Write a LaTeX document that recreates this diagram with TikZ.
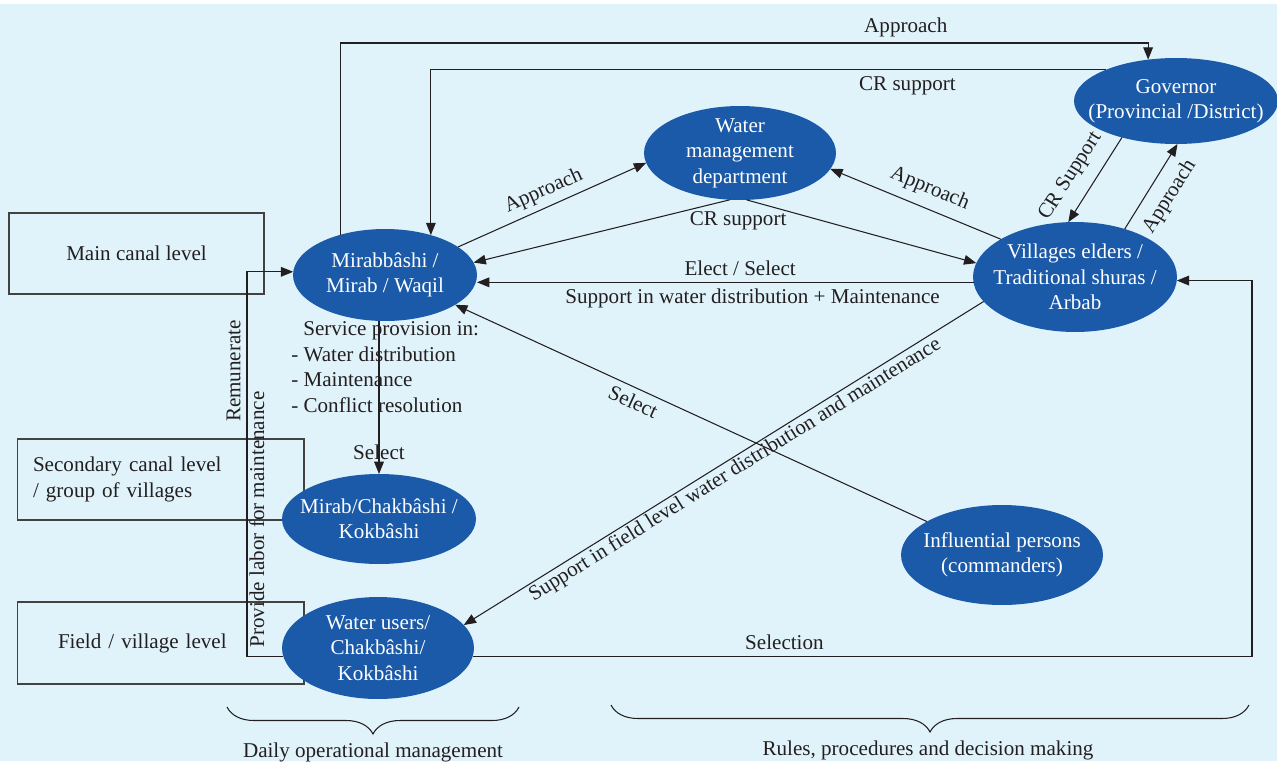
\documentclass[tikz,border=0pt]{standalone}
\usepackage{fontspec}
\setmainfont{Liberation Serif}
\usetikzlibrary{positioning,shapes.geometric,arrows.meta,decorations.pathreplacing}
\definecolor{bgblue}{HTML}{E0F3FB}
\definecolor{elblue}{HTML}{1A5AA8}
\definecolor{ink}{HTML}{231F20}

\begin{document}
\begin{tikzpicture}[x=0.02cm, y=-0.02cm,
  font=\fontsize{12}{14.5}\selectfont, text=ink,
  actor/.style={ellipse, fill=elblue, text=white, align=center,
                inner sep=-0.6cm, outer sep=0pt},
  lvl/.style={draw=ink!85, line width=0.6pt, minimum height=1.62cm},
  arr/.style={-{Triangle[length=7pt,width=5.5pt]}, draw=ink, line width=0.6pt},
  brc/.style={decorate, decoration={brace, mirror, amplitude=0.54cm},
              draw=ink, line width=0.6pt},
]
% background
\fill[white] (0,0) rectangle (1277,761);
\fill[bgblue] (0,4) rectangle (1277,761);
\useasboundingbox (0,0) rectangle (1277,761);

% Canal levels
\node[lvl, minimum width=5.1cm] (main) at (136.5,253.5) {Main canal level};
\node[lvl, minimum width=5.74cm, text width=5.1cm, align=left] (sec) at (160.5,479.5)
  {Secondary canal level\\/ group of villages};
\node[lvl, minimum width=5.74cm, minimum height=1.64cm, text width=5.1cm, align=left]
  (field) at (160.5,643) {\hspace*{0.5cm}Field / village level};

% Actors
\node[actor, minimum width=3.68cm, minimum height=1.84cm] (mir) at (385,275)
  {Mirabbâshi /\\Mirab / Waqil};
\node[actor, minimum width=3.84cm, minimum height=1.88cm] (wmd) at (740,153)
  {Water\\management\\department};
\node[actor, minimum width=4.08cm, minimum height=1.72cm] (gov) at (1176,101)
  {Governor\\(Provincial /District)};
\node[actor, minimum width=4.08cm, minimum height=2.2cm] (vil) at (1075,277)
  {Villages elders /\\Traditional shuras /\\Arbab};
\node[actor, minimum width=3.88cm, minimum height=1.8cm] (chak) at (379,519)
  {Mirab/Chakbâshi /\\Kokbâshi};
\node[actor, minimum width=3.84cm, minimum height=2.04cm] (wu) at (378,648)
  {Water users/\\Chakbâshi/\\Kokbâshi};
\node[actor, minimum width=4.04cm, minimum height=2cm] (infl) at (1002,555)
  {Influential persons\\(commanders)};

% Mirab tasks
\node[anchor=west, inner sep=0pt, align=left] (svc) at (291,367)
  {\hspace*{0.24cm}Service provision in:\\- Water distribution\\- Maintenance\\- Conflict resolution};

% Governor loop
\draw[arr] (mir.138) -- (mir.138 |- 0,43) -| node[pos=0.35, above] {Approach} (gov.124);
\draw[arr] (gov.156) -| node[pos=0.147, below] {CR support} (mir.41);

% Water management department
\draw[arr] (mir.21) -- node[pos=0.49, above, sloped] {Approach} (wmd.186);
\draw[arr] (wmd.258) -- node[at start, below=3pt, xshift=0.16cm] {CR support} (mir.8);
\draw[arr] (wmd.278) -- (vil.172);
\draw[arr] (vil.153) -- node[pos=0.46, above=2pt, sloped] {Approach} (wmd.350);

% Elders
\draw[arr] (vil.183) -- node[pos=0.47, above] {Elect / Select}
  node[pos=0.445, below] {Support in water distribution + Maintenance} (vil.183 -| mir.east);
\draw[arr] (gov.214) -- node[pos=0.6, above=4pt, sloped] {CR Support} (vil.97);
\draw[arr] (vil.44) -- node[pos=0.51, below=3pt, sloped] {Approach} (gov.272);
\draw[arr] (vil.195) -- node[pos=0.49, below, sloped, inner sep=1pt]
  {Support in field level water distribution and maintenance} (wu.15);

% Influential persons
\draw[arr] (infl.156) -- node[pos=0.61, below, sloped] {Select} (mir.337);

% Water users
\draw[arr] (wu.355) -- node[pos=0.4, above] {Selection} (wu.355 -| 1252,0) |- (vil.358);
\draw[arr] (wu.185) -- (wu.185 -| 247,0) |- node[pos=0.371, above, rotate=90] {Remunerate}
  node[pos=0.178, below, rotate=90, inner sep=1pt] {Provide labor for maintenance} (mir.178);
\draw[arr] (mir.south -| chak.north) -- node[pos=0.86] {Select} (chak.north);

% Braces
\draw[brc] (227,707) -- (519,707);
\draw[brc] (611,705) -- (1249,705);
\node[anchor=base] (daily) at (373,757) {Daily operational management};
\node[anchor=base] (rules) at (928,755) {Rules, procedures and decision making};
\end{tikzpicture}
\end{document}
